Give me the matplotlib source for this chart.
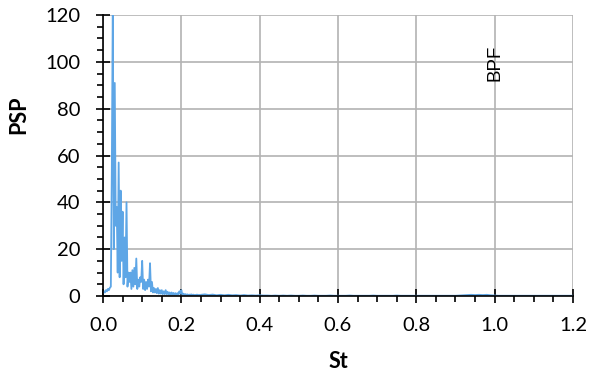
import matplotlib.pyplot as plt
import numpy as np

# Strouhal number bins (dense part, step 0.0025) and pressure spectrum values
st_low = np.round(np.arange(0, 101) * 0.0025, 4)
psp_low = [
    1.0, 2.0, 1.5, 2.5, 2.0, 3.0, 2.5, 3.5, 4.0, 54.0,
    125.0, 20.0, 91.0, 30.0, 38.0, 10.0, 57.0, 8.0, 45.0, 15.0,
    36.0, 5.0, 25.0, 8.0, 40.0, 4.0, 10.0, 6.0, 10.0, 3.0,
    11.0, 4.0, 12.0, 5.0, 16.0, 3.0, 7.0, 4.0, 8.0, 6.0,
    15.0, 3.0, 7.0, 2.5, 6.0, 3.0, 7.0, 4.0, 14.0, 2.0,
    6.0, 1.5, 3.4, 1.5, 3.0, 1.2, 3.4, 1.0, 2.5, 1.0,
    2.5, 0.8, 2.0, 0.8, 2.5, 0.8, 1.8, 0.6, 1.5, 0.6,
    1.5, 0.6, 1.3, 0.5, 1.2, 0.5, 1.2, 0.6, 2.0, 1.0,
    2.5, 0.6, 1.0, 0.4, 0.8, 0.4, 0.7, 0.3, 0.6, 0.3,
    0.7, 0.3, 0.6, 0.3, 0.5, 0.3, 0.6, 0.2, 0.5, 0.3,
    0.5,
]

# coarser tail, step 0.01 from 0.26 to 1.20
st_tail = np.round(0.26 + np.arange(0, 95) * 0.01, 2)
psp_tail = [
    0.7, 0.4, 0.6, 0.3, 0.5, 0.3, 0.5, 0.3, 0.4, 0.2,
    0.4, 0.2, 0.3, 0.2, 0.3, 0.2, 0.2, 0.1, 0.2, 0.1,
    0.2, 0.1, 0.2, 0.1, 0.1, 0.2, 0.1, 0.1, 0.2, 0.1,
    0.1, 0.1, 0.2, 0.1, 0.1, 0.1, 0.1, 0.2, 0.1, 0.1,
    0.1, 0.1, 0.1, 0.2, 0.1, 0.1, 0.1, 0.1, 0.1, 0.2,
    0.1, 0.1, 0.1, 0.1, 0.1, 0.1, 0.1, 0.1, 0.1, 0.1,
    0.1, 0.1, 0.1, 0.1, 0.1, 0.2, 0.3, 0.4, 0.5, 0.4,
    0.5, 0.4, 0.5, 0.3, 0.2, 0.1, 0.1, 0.1, 0.1, 0.1,
    0.1, 0.1, 0.1, 0.1, 0.1, 0.1, 0.1, 0.1, 0.1, 0.1,
    0.1, 0.1, 0.1, 0.1, 0.1,
]

st = np.concatenate([st_low, st_tail])
psp = np.concatenate([psp_low, psp_tail])

x_ticks = [0.0, 0.2, 0.4, 0.6, 0.8, 1.0, 1.2]
y_ticks = [0, 20, 40, 60, 80, 100, 120]

plt.rcParams['font.family'] = ['Lato', 'DejaVu Sans']

fig = plt.figure(figsize=(5.91, 3.76), dpi=100)
ax = fig.add_axes([0.1743, 0.2128, 0.7952, 0.7472])

ax.plot(st, psp, lw=1.3, color='#5ea6e6')

ax.set_xlim(0, 1.2)
ax.set_ylim(0, 120)
ax.set_xticks(x_ticks)
ax.set_xticklabels(['%.1f' % v for v in x_ticks])
ax.set_yticks(y_ticks)
ax.set_xticks(np.arange(0, 1.2001, 0.05), minor=True)
ax.set_yticks(np.arange(0, 120.01, 5), minor=True)

ax.grid(True, which='major', color='#b3b3b3', lw=1.2)
ax.set_axisbelow(True)
for side in ['top', 'right']:
    ax.spines[side].set_visible(False)
for side in ['left', 'bottom']:
    ax.spines[side].set_linewidth(1.2)

ax.tick_params(which='major', direction='inout', length=10.5, width=1.2,
               labelsize=14.5)
ax.tick_params(axis='x', which='major', pad=10)
ax.tick_params(axis='y', which='major', pad=11)
ax.tick_params(which='minor', direction='out', length=4, width=1.2)

ax.set_xlabel('St', fontsize=15.5, fontweight='bold')
ax.set_ylabel('PSP', fontsize=15.5, fontweight='bold')
ax.xaxis.set_label_coords(0.5, -0.195)
ax.yaxis.set_label_coords(-0.158, 0.644)

ax.text(1.0, 92, 'BPF', rotation=90, ha='center', va='bottom',
        fontsize=13.5, family='Liberation Sans')

fig.savefig('out.png', dpi=100)
